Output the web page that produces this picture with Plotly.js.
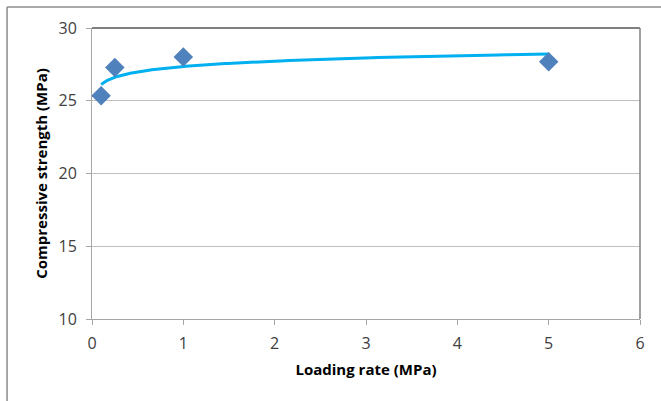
<!DOCTYPE html>
<html><head><meta charset="utf-8">
<script src="https://cdn.plot.ly/plotly-3.0.1.min.js"></script>
<style>html,body{margin:0;padding:0;background:#fff}#c{width:661px;height:401px}</style>
</head><body><div id="c"></div>
<script>
const loadingRate = [0.1, 0.25, 1, 5];
const strength = [25.35, 27.28, 28.0, 27.68];
const xTicks = [0, 1, 2, 3, 4, 5, 6];
const yTicks = [10, 15, 20, 25, 30];

// logarithmic trendline fitted to the data (least squares on ln x)
const lx = loadingRate.map(Math.log);
const n = lx.length;
const mx = lx.reduce((a,b)=>a+b,0)/n, my = strength.reduce((a,b)=>a+b,0)/n;
let sxy=0, sxx=0;
for (let i=0;i<n;i++){ sxy+=(lx[i]-mx)*(strength[i]-my); sxx+=(lx[i]-mx)**2; }
const b = sxy/sxx, a = my - b*mx;
const tx=[], ty=[];
const x0=Math.min(...loadingRate), x1=Math.max(...loadingRate);
for (let i=0;i<=200;i++){ const x = x0*Math.pow(x1/x0, i/200); tx.push(x); ty.push(a+b*Math.log(x)); }

const font = {family:'"Open Sans", "Liberation Sans", sans-serif', color:'#404040'};
Plotly.newPlot('c', [
  {x: tx, y: ty, mode:'lines', line:{color:'#00B0F0', width:3}, hoverinfo:'skip'},
  {x: loadingRate, y: strength, mode:'markers', marker:{symbol:'diamond', size:15, color:'#4F81BD'}}
], {
  width:661, height:401, showlegend:false,
  margin:{l:92, r:21, t:28, b:82},
  paper_bgcolor:'#fff', plot_bgcolor:'#fff',
  font: font,
  xaxis:{range:[0,6], tickvals:xTicks, showgrid:false, zeroline:false,
    showline:true, linecolor:'#a6a6a6', linewidth:1, ticks:'outside', ticklen:5, tickcolor:'#a6a6a6',
    ticklabelstandoff:5,
    tickfont:{size:16, color:'#404040', family:font.family},
    title:{text:'<b>Loading rate (MPa)</b>', font:{size:15, color:'#000', family:font.family}, standoff:11}},
  yaxis:{range:[10,30], tickvals:yTicks, showgrid:true, gridcolor:'#bfbfbf', gridwidth:1, zeroline:false,
    showline:true, linecolor:'#a6a6a6', linewidth:1, ticks:'outside', ticklen:5, tickcolor:'#a6a6a6',
    ticklabelstandoff:6,
    tickfont:{size:16, color:'#404040', family:font.family},
    title:{text:'<b>Compressive strength (MPa)</b>', font:{size:15, color:'#000', family:font.family}, standoff:7}},
  shapes:[
    {type:'line', xref:'paper', yref:'paper', x0:0, x1:1, y0:1, y1:1, line:{color:'#000', width:1}},
    {type:'line', xref:'paper', yref:'paper', x0:1, x1:1, y0:0, y1:1, line:{color:'#808080', width:1.5}},
    {type:'line', xref:'paper', yref:'paper', x0:-0.155, x1:1.1, y0:1.072, y1:1.072, line:{color:'#8c8c8c', width:1.5}},
    {type:'line', xref:'paper', yref:'paper', x0:-0.155, x1:-0.155, y0:-0.3, y1:1.072, line:{color:'#8c8c8c', width:1.5}}
  ]
}, {displayModeBar:false, staticPlot:true});
</script></body></html>
